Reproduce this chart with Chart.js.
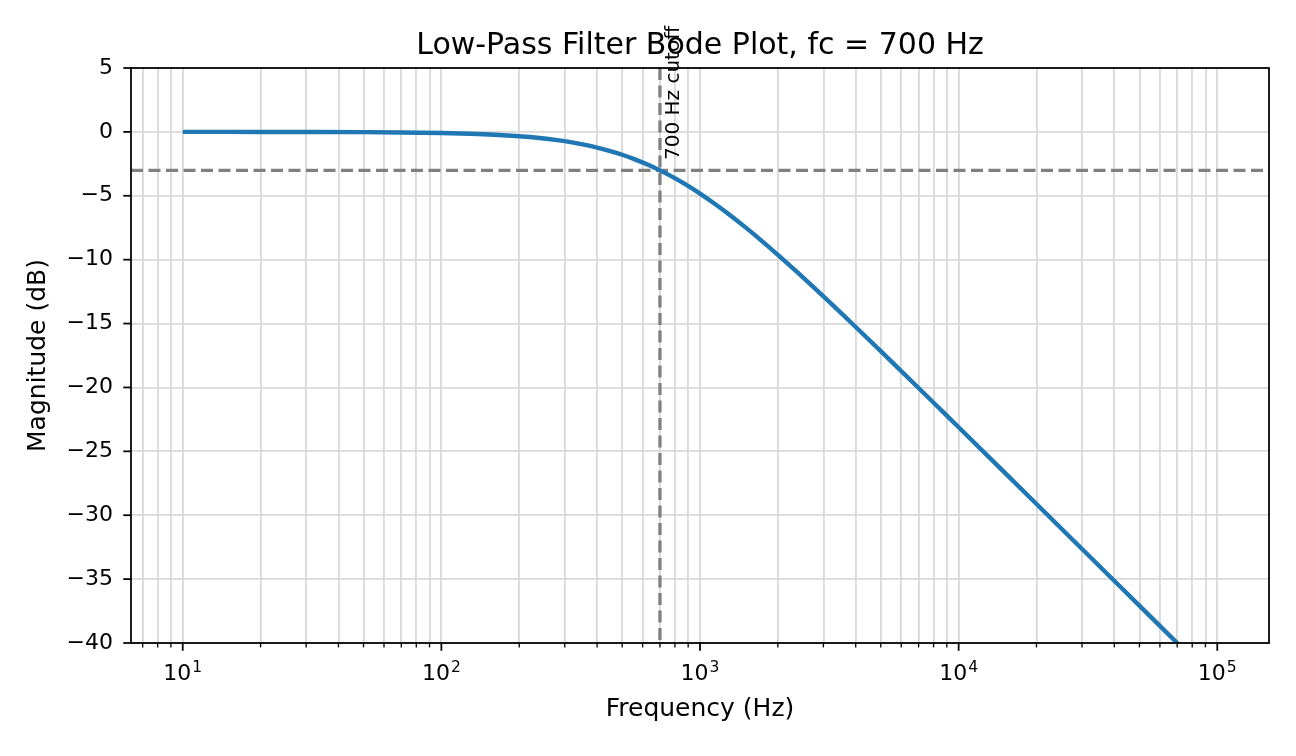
<!DOCTYPE html>
<html lang="en">
<head>
    <meta charset="UTF-8">
    <title>Low-Pass Filter Bode Plot, fc = 700 Hz</title>
    <script src="https://cdn.jsdelivr.net/npm/chart.js"></script>
    <style>
        html, body { margin: 0; padding: 0; background: #fff; }
        #wrap { width: 1296px; height: 756px; }
    </style>
</head>
<body>
<div id="wrap"><canvas id="bode"></canvas></div>
<script>
// values
const freqs = [10, 15, 20, 30, 50, 70, 100, 130, 160, 200, 240, 280, 320, 360, 400, 450, 500, 560, 630,
               700, 780, 870, 1000, 1150, 1300, 1500, 1750, 2000, 2400, 2800, 3300, 4000, 5000, 6000,
               7000, 8500, 10000, 15000, 20000, 30000, 50000, 70000, 100000];
const magnitudes = [0.0, -0.002, -0.004, -0.008, -0.022, -0.043, -0.088, -0.147, -0.221, -0.341, -0.483, -0.645,
                    -0.824, -1.019, -1.227, -1.502, -1.790, -2.148, -2.577,
                    -3.010, -3.505, -4.056, -4.830, -5.681, -6.483, -7.476, -8.603, -9.620, -11.057, -12.304,
                    -13.659, -15.270, -17.162, -18.720,
                    -20.043, -21.716, -23.119, -26.629, -29.123, -32.642, -37.078, -40.0, -43.098];
const cutoffFreq = 700;
const cutoffDb = -3.01;
const yTicks = [-40, -35, -30, -25, -20, -15, -10, -5, 0, 5];

const FONT = 'DejaVu Sans';
const PX = 2.2; // pixels per point

const points = freqs.map((f, i) => ({ x: f, y: magnitudes[i] }));

function isDecade(v) {
    const e = Math.log10(v);
    return Math.abs(e - Math.round(e)) < 1e-9;
}

// frame, tick marks, log tick labels, reference lines, title and annotation
const decorations = {
    id: 'decorations',
    beforeDatasetsDraw(chart) {
        const { ctx, chartArea: a, scales: { x, y } } = chart;
        ctx.save();
        ctx.beginPath();
        ctx.rect(a.left, a.top, a.right - a.left, a.bottom - a.top);
        ctx.clip();
        ctx.strokeStyle = '#808080';
        ctx.lineWidth = 1.5 * PX;
        ctx.setLineDash([12, 5.5]);
        const xc = x.getPixelForValue(cutoffFreq);
        const yc = y.getPixelForValue(cutoffDb);
        ctx.beginPath();
        ctx.moveTo(xc, a.top); ctx.lineTo(xc, a.bottom);
        ctx.moveTo(a.left, yc); ctx.lineTo(a.right, yc);
        ctx.stroke();
        ctx.restore();
    },
    afterDatasetsDraw(chart) {
        const { ctx, chartArea: a, scales: { x, y } } = chart;
        ctx.save();
        // tick marks
        ctx.strokeStyle = '#000';
        x.ticks.forEach(t => {
            const px = x.getPixelForValue(t.value);
            const major = isDecade(t.value);
            ctx.lineWidth = major ? 0.8 * PX : 0.6 * PX;
            ctx.beginPath();
            ctx.moveTo(px, a.bottom);
            ctx.lineTo(px, a.bottom + (major ? 3.5 : 2) * PX);
            ctx.stroke();
        });
        ctx.lineWidth = 0.8 * PX;
        y.ticks.forEach(t => {
            const py = y.getPixelForValue(t.value);
            ctx.beginPath();
            ctx.moveTo(a.left, py);
            ctx.lineTo(a.left - 3.5 * PX, py);
            ctx.stroke();
        });
        // frame
        ctx.lineWidth = 0.8 * PX;
        ctx.strokeRect(a.left, a.top, a.right - a.left, a.bottom - a.top);

        // decade labels 10^n with raised exponent
        ctx.fillStyle = '#000';
        ctx.textBaseline = 'alphabetic';
        ctx.textAlign = 'left';
        x.ticks.forEach(t => {
            if (!isDecade(t.value)) return;
            const px = x.getPixelForValue(t.value);
            const exp = String(Math.round(Math.log10(t.value)));
            ctx.font = '22px "' + FONT + '"';
            const wBase = ctx.measureText('10').width;
            ctx.font = '15.5px "' + FONT + '"';
            const wExp = ctx.measureText(exp).width;
            const x0 = px - (wBase + 1 + wExp) / 2;
            ctx.font = '22px "' + FONT + '"';
            ctx.fillText('10', x0, a.bottom + 37);
            ctx.font = '15.5px "' + FONT + '"';
            ctx.fillText(exp, x0 + wBase + 1, a.bottom + 29);
        });

        // title
        ctx.font = '30px "' + FONT + '"';
        ctx.textAlign = 'center';
        ctx.fillText('Low-Pass Filter Bode Plot, fc = 700 Hz', (a.left + a.right) / 2, 54);
        // cutoff annotation
        const xc = x.getPixelForValue(cutoffFreq);
        const yt = y.getPixelForValue(-2.2);
        ctx.translate(xc + 19, yt);
        ctx.rotate(-Math.PI / 2);
        ctx.font = '20px "' + FONT + '"';
        ctx.textAlign = 'left';
        ctx.fillText('700 Hz cutoff', 0, 0);
        ctx.restore();
    }
};

new Chart(document.getElementById('bode'), {
    type: 'line',
    data: {
        datasets: [{
            data: points,
            borderColor: '#1f77b4',
            borderWidth: 2 * PX,
            pointRadius: 0,
            cubicInterpolationMode: 'monotone',
            fill: false
        }]
    },
    options: {
        responsive: true,
        maintainAspectRatio: false,
        animation: false,
        layout: { padding: { top: 68, right: 27, left: 0, bottom: 0 } },
        plugins: { legend: { display: false }, tooltip: { enabled: false } },
        scales: {
            x: {
                type: 'logarithmic',
                min: Math.pow(10, 0.8),
                max: Math.pow(10, 5.2),
                afterFit(scale) { scale.height = 113; },
                afterBuildTicks(scale) {
                    const ticks = [];
                    for (let e = 0; e <= 5; e++) {
                        for (let m = 1; m <= 9; m++) {
                            const v = m * Math.pow(10, e);
                            if (v >= scale.min && v <= scale.max) ticks.push({ value: v });
                        }
                    }
                    scale.ticks = ticks;
                },
                grid: { color: '#d9d9d9', lineWidth: 1.8, drawTicks: false },
                border: { display: false },
                ticks: {
                    display: false,
                    autoSkip: false,
                    maxRotation: 0
                },
                title: {
                    display: true,
                    text: 'Frequency (Hz)',
                    color: '#000',
                    font: { family: FONT, size: 25 },
                    padding: { top: 0, bottom: 32 }
                }
            },
            y: {
                min: -40,
                max: 5,
                afterFit(scale) { scale.width = 131; },
                afterBuildTicks(scale) { scale.ticks = yTicks.map(v => ({ value: v })); },
                grid: { color: '#d9d9d9', lineWidth: 1.8, drawTicks: false },
                border: { display: false },
                ticks: {
                    padding: 18,
                    color: '#000',
                    font: { family: FONT, size: 22 },
                    callback(v) { return v < 0 ? '\u2212' + Math.abs(v) : String(v); }
                },
                title: {
                    display: true,
                    text: 'Magnitude (dB)',
                    color: '#000',
                    font: { family: FONT, size: 25 },
                    padding: { top: 23, bottom: 0 }
                }
            }
        }
    },
    plugins: [decorations]
});
</script>
</body>
</html>
